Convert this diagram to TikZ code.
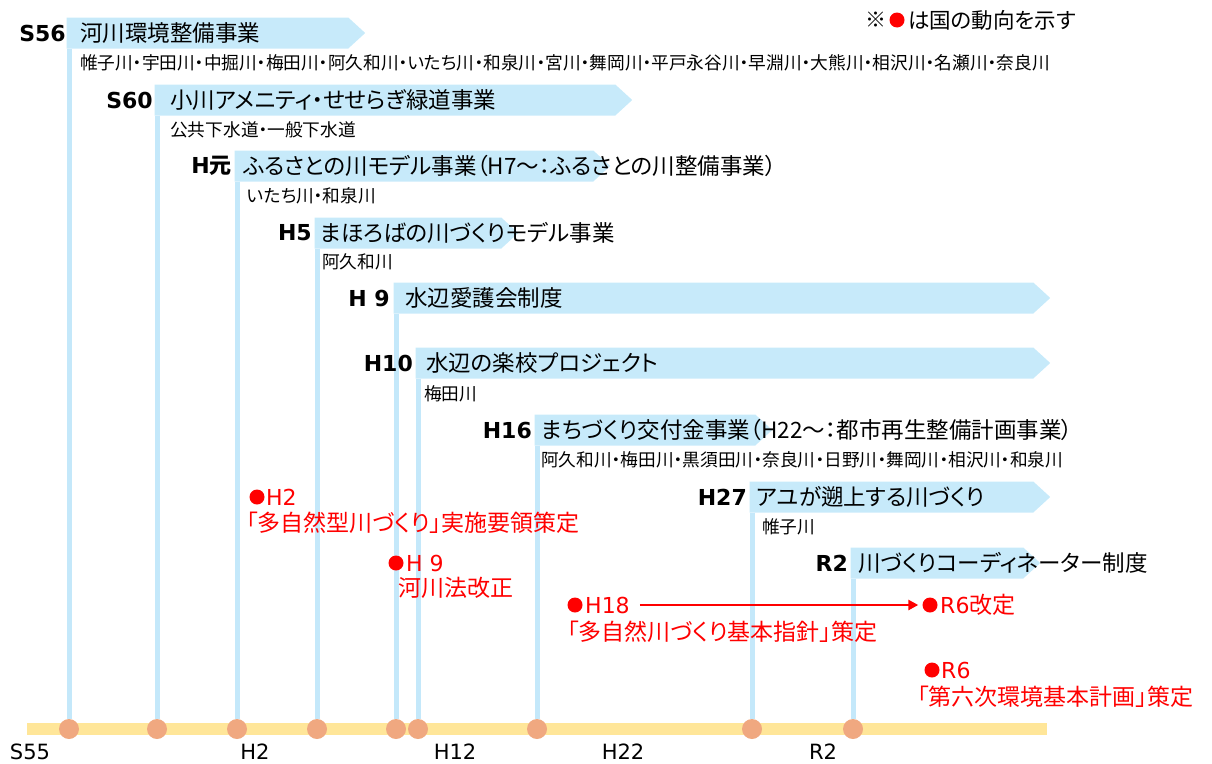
\documentclass[tikz,border=0pt]{standalone}
\usepackage{fontspec}
\setmainfont{DejaVu Sans}
\newfontfamily\jp{Noto Sans CJK JP}[RawFeature=+palt]
\usetikzlibrary{shapes.symbols}
\usetikzlibrary{shapes.geometric}
\usetikzlibrary{arrows.meta}
\usetikzlibrary{backgrounds}

\definecolor{barblue}{RGB}{199,234,250}
\definecolor{stemblue}{RGB}{196,232,250}
\definecolor{axisyellow}{RGB}{255,230,153}
\definecolor{tickorange}{RGB}{240,168,128}

\begin{document}
\begin{tikzpicture}[x=1pt,y=-1pt,
    bar/.style={signal,signal to=east,signal pointer angle=85,fill=barblue,
        minimum height=31pt,inner sep=0pt,anchor=west},
    yearlbl/.style={anchor=east,inner sep=0pt,font=\fontsize{22}{24}\selectfont\bfseries},
    title/.style={anchor=west,inner sep=0pt,font=\jp\fontsize{22.5}{24}\selectfont},
    rivers/.style={anchor=west,inner sep=0pt,font=\jp\fontsize{17.7}{19}\selectfont},
    tick/.style={circle,fill=tickorange,minimum size=20pt,inner sep=0pt},
    axislbl/.style={inner sep=0pt,font=\fontsize{21}{23}\selectfont},
    reddot/.style={circle,fill=red,minimum size=15pt,inner sep=0pt},
    redtxt/.style={anchor=west,inner sep=0pt,text=red,font=\jp\fontsize{23}{25}\selectfont},
    stem/.style={line width=5pt,stemblue}]

    \useasboundingbox (0,0) rectangle (1212,763);
    %\draw [help lines,step=50] (0,0) grid (1212,763);

    % time axis
    \path (27,729) coordinate (ax0) (1047,729) coordinate (ax1);
    \draw[line width=12pt,axisyellow] (ax0) -- (ax1);

    \path   (69,729)  node (d56) [tick] {}
            (157,729) node (d60) [tick] {}
            (237,729) node (dh1) [tick] {}
            (317,729) node (dh5) [tick] {}
            (396,729) node (dh9) [tick] {}
            (418,729) node (dh10) [tick] {}
            (537,729) node (dh16) [tick] {}
            (752,729) node (dh27) [tick] {}
            (853,729) node (dr2) [tick] {};

    \path   (30,752)  node (xs55) [axislbl] {S55}
            (255,752) node (xh2)  [axislbl] {H2}
            (455,752) node (xh12) [axislbl] {H12}
            (623,752) node (xh22) [axislbl] {H22}
            (823,752) node (xr2)  [axislbl] {R2};

    % projects
    \path   (66.5,33)  node (b56) [bar,minimum width=298.5pt] {}
            (154.5,100) node (b60) [bar,minimum width=477.5pt] {}
            (234.5,166) node (bh1) [bar,minimum width=375.5pt] {}
            (314.5,233) node (bh5) [bar,minimum width=203.5pt] {}
            (393.5,298) node (bh9) [bar,minimum width=656.5pt] {}
            (415.5,363) node (bh10) [bar,minimum width=634.5pt] {}
            (534.5,430) node (bh16) [bar,minimum width=237.5pt] {}
            (749.5,497) node (bh27) [bar,minimum width=300.5pt] {}
            (850.5,563) node (br2) [bar,minimum width=189.5pt] {};

    \path   (66,33)  node (y56) [yearlbl] {S56}
            (153,100) node (y60) [yearlbl] {S60}
            (232,166) node (yh1) [yearlbl] {H{\jp 元}}
            (312,233) node (yh5) [yearlbl] {H5}
            (390,298) node (yh9) [yearlbl] {H 9}
            (413,363) node (yh10) [yearlbl] {H10}
            (532,430) node (yh16) [yearlbl] {H16}
            (747,497) node (yh27) [yearlbl] {H27}
            (848,563) node (yr2) [yearlbl] {R2};

    \path   (80,33)  node (t56) [title] {河川環境整備事業}
            (170,100) node (t60) [title] {小川アメニティ・せせらぎ緑道事業}
            (243,166) node (th1) [title] {ふるさとの川モデル事業（H7～：ふるさとの川整備事業）}
            (320,233) node (th5) [title] {まほろばの川づくりモデル事業}
            (405,298) node (th9) [title] {水辺愛護会制度}
            (426,363) node (th10) [title] {水辺の楽校プロジェクト}
            (541,430) node (th16) [title] {まちづくり交付金事業（H22～：都市再生整備計画事業）}
            (756,497) node (th27) [title] {アユが遡上する川づくり}
            (858,563) node (tr2) [title] {川づくりコーディネーター制度};

    \path   (80,63)  node (r56) [rivers] {帷子川・宇田川・中掘川・梅田川・阿久和川・いたち川・和泉川・宮川・舞岡川・平戸永谷川・早淵川・大熊川・相沢川・名瀬川・奈良川}
            (170,130) node (r60) [rivers] {公共下水道・一般下水道}
            (247,196) node (rh1) [rivers] {いたち川・和泉川}
            (322,262) node (rh5) [rivers] {阿久和川}
            (424,394) node (rh10) [rivers] {梅田川}
            (541,460) node (rh16) [rivers] {阿久和川・梅田川・黒須田川・奈良川・日野川・舞岡川・相沢川・和泉川}
            (762,527) node (rh27) [rivers] {帷子川};

    \begin{pgfonlayer}{background}
    \draw[stem] ([xshift=2.5pt]b56.south west) -- (d56.north);
    \draw[stem] ([xshift=2.5pt]b60.south west) -- (d60.north);
    \draw[stem] ([xshift=2.5pt]bh1.south west) -- (dh1.north);
    \draw[stem] ([xshift=2.5pt]bh5.south west) -- (dh5.north);
    \draw[stem] ([xshift=2.5pt]bh9.south west) -- (dh9.north);
    \draw[stem] ([xshift=2.5pt]bh10.south west) -- (dh10.north);
    \draw[stem] ([xshift=2.5pt]bh16.south west) -- (dh16.north);
    \draw[stem] ([xshift=2.5pt]bh27.south west) -- (dh27.north);
    \draw[stem] ([xshift=2.5pt]br2.south west) -- (dr2.north);
    \end{pgfonlayer}

    % national trends
    \path   (257,497) node (n2) [reddot] {}
            (266,497) node (n2y) [redtxt,font=\fontsize{22}{24}\selectfont] {H2}
            (246,523) node (n2t) [redtxt] {「多自然型川づくり」実施要領策定}
            (396,563) node (n9) [reddot] {}
            (406,563) node (n9y) [redtxt,font=\fontsize{22}{24}\selectfont] {H 9}
            (398,588) node (n9t) [redtxt] {河川法改正}
            (575,605) node (n18) [reddot] {}
            (585,605) node (n18y) [redtxt,font=\fontsize{22}{24}\selectfont] {H18}
            (567,632) node (n18t) [redtxt] {「多自然川づくり基本指針」策定}
            (930,605) node (n6a) [reddot] {}
            (940,605) node (n6ay) [redtxt] {{\fontspec{DejaVu Sans}\fontsize{22}{24}\selectfont R6}改定}
            (932,670) node (n6b) [reddot] {}
            (941,670) node (n6by) [redtxt,font=\fontsize{22}{24}\selectfont] {R6}
            (917,697) node (n6bt) [redtxt] {「第六次環境基本計画」策定};

    \draw[line width=2.5pt,red,arrows = -{Triangle[length=10pt,width=10pt]}] ([xshift=10pt]n18y.east) -- ([xshift=-4pt]n6a.west);

    % legend
    \path   (865,20) node (lg0) [anchor=west,inner sep=0pt,font=\jp\fontsize{21}{23}\selectfont] {※}
            (897,20) node (lgd) [reddot] {}
            (908,20) node (lgt) [anchor=west,inner sep=0pt,font=\jp\fontsize{21.5}{23}\selectfont] {は国の動向を示す};

\end{tikzpicture}
\end{document}
